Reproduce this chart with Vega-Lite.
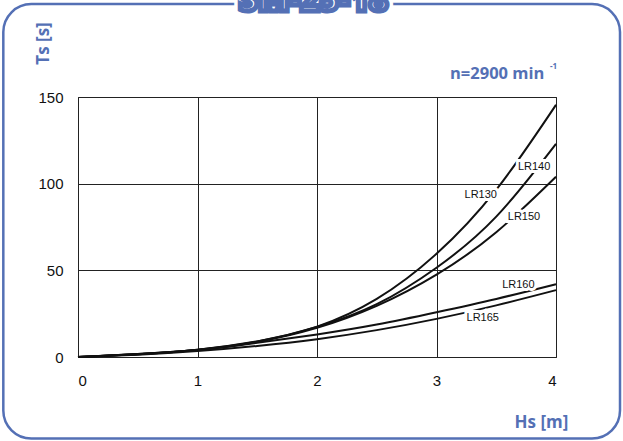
{
  "$schema": "https://vega.github.io/schema/vega-lite/v6.json",
  "autosize": "none",
  "width": 478,
  "height": 260,
  "padding": {"left": 78, "top": 97, "right": 67, "bottom": 84},
  "background": "white",
  "config": {
    "view": {"stroke": "#222222", "strokeWidth": 1},
    "axis": {"labelFont": "Liberation Sans", "labelFontSize": 15, "labelColor": "#111111", "ticks": false, "domain": false, "gridColor": "#222222", "gridOpacity": 1, "gridWidth": 1}
  },
  "datasets": {
    "curves": [
      {"series": "LR130", "hs": 0, "ts": 0}, {"series": "LR130", "hs": 0.5, "ts": 1.7}, {"series": "LR130", "hs": 1, "ts": 4.2}, {"series": "LR130", "hs": 1.5, "ts": 9.0}, {"series": "LR130", "hs": 2, "ts": 17.5}, {"series": "LR130", "hs": 2.5, "ts": 33.5}, {"series": "LR130", "hs": 3, "ts": 59.5}, {"series": "LR130", "hs": 3.5, "ts": 96.5}, {"series": "LR130", "hs": 4, "ts": 145.5},
      {"series": "LR140", "hs": 0, "ts": 0}, {"series": "LR140", "hs": 0.5, "ts": 1.7}, {"series": "LR140", "hs": 1, "ts": 4.2}, {"series": "LR140", "hs": 1.5, "ts": 8.9}, {"series": "LR140", "hs": 2, "ts": 17.3}, {"series": "LR140", "hs": 2.5, "ts": 30.5}, {"series": "LR140", "hs": 3, "ts": 51.5}, {"series": "LR140", "hs": 3.5, "ts": 81}, {"series": "LR140", "hs": 4, "ts": 123},
      {"series": "LR150", "hs": 0, "ts": 0}, {"series": "LR150", "hs": 0.5, "ts": 1.6}, {"series": "LR150", "hs": 1, "ts": 4.0}, {"series": "LR150", "hs": 1.5, "ts": 8.7}, {"series": "LR150", "hs": 2, "ts": 16.8}, {"series": "LR150", "hs": 2.5, "ts": 29.5}, {"series": "LR150", "hs": 3, "ts": 47.5}, {"series": "LR150", "hs": 3.5, "ts": 72}, {"series": "LR150", "hs": 4, "ts": 104},
      {"series": "LR160", "hs": 0, "ts": 0}, {"series": "LR160", "hs": 0.5, "ts": 1.6}, {"series": "LR160", "hs": 1, "ts": 4.0}, {"series": "LR160", "hs": 1.5, "ts": 8.2}, {"series": "LR160", "hs": 2, "ts": 13}, {"series": "LR160", "hs": 2.5, "ts": 18.7}, {"series": "LR160", "hs": 3, "ts": 25.8}, {"series": "LR160", "hs": 3.5, "ts": 33.5}, {"series": "LR160", "hs": 4, "ts": 42},
      {"series": "LR165", "hs": 0, "ts": 0}, {"series": "LR165", "hs": 0.5, "ts": 1.3}, {"series": "LR165", "hs": 1, "ts": 3.4}, {"series": "LR165", "hs": 1.5, "ts": 6.4}, {"series": "LR165", "hs": 2, "ts": 10.3}, {"series": "LR165", "hs": 2.5, "ts": 15.5}, {"series": "LR165", "hs": 3, "ts": 22}, {"series": "LR165", "hs": 3.5, "ts": 29.8}, {"series": "LR165", "hs": 4, "ts": 38.6}
    ],
    "labels": [
      {"label": "LR140", "hs": 3.817, "ts": 109.4},
      {"label": "LR130", "hs": 3.37, "ts": 93.3},
      {"label": "LR150", "hs": 3.732, "ts": 80.6},
      {"label": "LR160", "hs": 3.685, "ts": 41.5},
      {"label": "LR165", "hs": 3.387, "ts": 22.7}
    ]
  },
  "layer": [
    {
      "data": {"name": "curves"},
      "mark": {"type": "line", "color": "#111111", "strokeWidth": 2, "interpolate": "natural"},
      "encoding": {
        "x": {"field": "hs", "type": "quantitative", "scale": {"domain": [0, 4], "nice": false}, "axis": {"values": [0, 1, 2, 3, 4], "format": "d", "labelPadding": 16, "title": "Hs [m]", "titleFont": "Open Sans", "titleFontSize": 17, "titleFontWeight": 700, "titleColor": "#5470b5", "titleX": 463, "titleY": 65, "titleAlign": "center", "titleBaseline": "middle"}},
        "y": {"field": "ts", "type": "quantitative", "scale": {"domain": [0, 150], "nice": false}, "axis": {"values": [0, 50, 100, 150], "format": "d", "labelPadding": 15, "title": "Ts [s]", "titleFont": "Open Sans", "titleFontSize": 17, "titleFontWeight": 700, "titleColor": "#5470b5", "titleX": -35, "titleY": -54, "titleAlign": "center", "titleBaseline": "middle"}},
        "detail": {"field": "series"}
      }
    },
    {
      "data": {"name": "labels"},
      "mark": {"type": "text", "font": "Liberation Sans", "fontSize": 11, "fill": "white", "stroke": "white", "strokeWidth": 6, "align": "center", "baseline": "middle"},
      "encoding": {
        "x": {"field": "hs", "type": "quantitative"},
        "y": {"field": "ts", "type": "quantitative"},
        "text": {"field": "label"}
      }
    },
    {
      "data": {"name": "labels"},
      "mark": {"type": "text", "font": "Liberation Sans", "fontSize": 11, "fill": "#111111", "align": "center", "baseline": "middle"},
      "encoding": {
        "x": {"field": "hs", "type": "quantitative"},
        "y": {"field": "ts", "type": "quantitative"},
        "text": {"field": "label"}
      }
    },
    {
      "data": {"values": [{}]},
      "mark": {"type": "rect", "fill": null, "stroke": "#5470b5", "strokeWidth": 2.5, "cornerRadius": 28, "clip": false},
      "encoding": {
        "x": {"datum": -0.625},
        "x2": {"datum": 4.5356},
        "y": {"datum": -47.0},
        "y2": {"datum": 203.6}
      }
    },
    {
      "data": {"values": [{}]},
      "mark": {"type": "text", "text": "SM-25-18", "font": "Open Sans", "fontSize": 33, "fontWeight": 800, "fill": "white", "stroke": "white", "strokeWidth": 12, "align": "center", "baseline": "alphabetic"},
      "encoding": {"x": {"datum": 1.97}, "y": {"datum": 199.5}}
    },
    {
      "data": {"values": [{}]},
      "mark": {"type": "text", "text": "SM-25-18", "font": "Open Sans", "fontSize": 33, "fontWeight": 800, "fill": "white", "stroke": "#5470b5", "strokeWidth": 5, "align": "center", "baseline": "alphabetic"},
      "encoding": {"x": {"datum": 1.97}, "y": {"datum": 199.5}}
    },
    {
      "data": {"values": [{}]},
      "mark": {"type": "text", "text": "n=2900 min", "font": "Open Sans", "fontSize": 16.5, "fontWeight": 700, "fill": "#5470b5", "align": "left", "baseline": "alphabetic"},
      "encoding": {"x": {"datum": 3.113}, "y": {"datum": 160.4}}
    },
    {
      "data": {"values": [{}]},
      "mark": {"type": "text", "text": "-1", "font": "Open Sans", "fontSize": 8, "fontWeight": 700, "fill": "#5470b5", "align": "left", "baseline": "alphabetic"},
      "encoding": {"x": {"datum": 3.95}, "y": {"datum": 166}}
    }
  ]
}
